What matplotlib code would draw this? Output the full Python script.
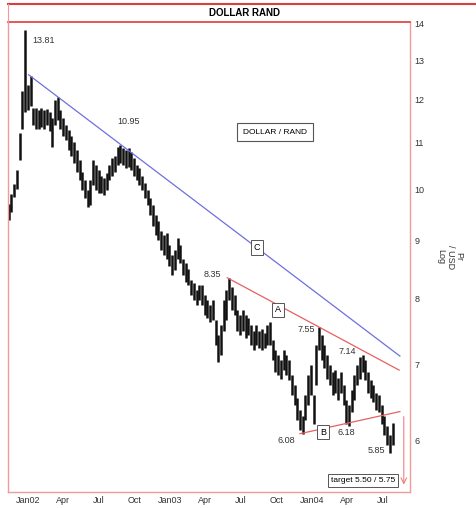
import numpy as np
import pandas as pd
import matplotlib
matplotlib.use('Agg')
import matplotlib.pyplot as plt
from matplotlib.ticker import FixedLocator, NullLocator, FixedFormatter

plt.rcParams['font.family'] = ['Liberation Sans', 'DejaVu Sans']

# weekly high / low of USD/ZAR, from mid Nov 2001
week_start = '2001-11-12'
highs = [9.70, 9.90, 10.10, 10.40, 11.20, 12.20, 13.81, 12.35, 12.60, 11.80,
         11.80, 11.75, 11.80, 11.75, 11.78, 11.70, 11.55, 12.00, 12.05, 11.75,
         11.55, 11.40, 11.28, 11.15, 11.00, 10.83, 10.60, 10.35, 10.18, 9.98,
         10.18, 10.60, 10.50, 10.39, 10.28, 10.22, 10.33, 10.50, 10.65, 10.70,
         10.90, 10.95, 10.87, 10.83, 10.87, 10.78, 10.65, 10.50, 10.43, 10.28,
         10.12, 9.98, 9.82, 9.68, 9.48, 9.38, 9.19, 9.10, 9.14, 8.92,
         8.74, 8.83, 9.05, 8.92, 8.68, 8.61, 8.50, 8.31, 8.26, 8.14,
         8.22, 8.22, 8.06, 7.98, 7.90, 7.98, 7.66, 7.43, 7.58, 7.98,
         8.14, 8.35, 8.19, 8.06, 7.82, 7.74, 7.82, 7.74, 7.69, 7.58,
         7.50, 7.58, 7.50, 7.53, 7.47, 7.58, 7.63, 7.35, 7.21, 7.13,
         7.06, 7.21, 7.13, 7.06, 6.85, 6.71, 6.54, 6.38, 6.30, 6.58,
         6.85, 6.99, 6.58, 7.28, 7.55, 7.43, 7.28, 7.13, 6.99, 6.89,
         6.92, 6.81, 6.89, 6.71, 6.51, 6.45, 6.64, 6.85, 6.99, 7.10,
         7.14, 7.06, 6.89, 6.78, 6.71, 6.61, 6.58, 6.45, 6.30, 6.18,
         6.06, 6.22]
lows = [9.40, 9.55, 9.85, 10.00, 10.60, 11.30, 11.70, 11.75, 11.85, 11.40,
        11.30, 11.30, 11.35, 11.30, 11.40, 11.25, 10.90, 11.40, 11.50, 11.30,
        11.15, 11.05, 10.83, 10.70, 10.55, 10.35, 10.18, 9.98, 9.82, 9.64,
        9.68, 10.08, 9.98, 9.93, 9.93, 9.88, 9.98, 10.18, 10.28, 10.35,
        10.50, 10.55, 10.50, 10.43, 10.47, 10.39, 10.28, 10.18, 10.08, 9.98,
        9.82, 9.68, 9.48, 9.28, 9.10, 9.01, 8.83, 8.74, 8.68, 8.56,
        8.40, 8.48, 8.68, 8.61, 8.40, 8.28, 8.22, 8.06, 7.98, 7.90,
        7.98, 7.90, 7.74, 7.69, 7.63, 7.66, 7.28, 7.03, 7.13, 7.50,
        7.66, 7.98, 7.82, 7.74, 7.50, 7.43, 7.50, 7.38, 7.43, 7.28,
        7.21, 7.28, 7.24, 7.21, 7.24, 7.28, 7.28, 7.06, 6.90, 6.85,
        6.80, 6.92, 6.85, 6.78, 6.58, 6.45, 6.25, 6.12, 6.08, 6.25,
        6.45, 6.58, 6.20, 6.71, 7.21, 7.06, 6.95, 6.80, 6.71, 6.58,
        6.61, 6.51, 6.61, 6.45, 6.20, 6.18, 6.35, 6.51, 6.71, 6.80,
        6.90, 6.78, 6.61, 6.54, 6.48, 6.38, 6.35, 6.20, 6.06, 5.94,
        5.85, 5.94]

# trend lines (date, level)
line_c_dates = ['2002-01-02', '2004-08-14']
line_c_vals = [12.62, 7.12]
line_a_dates = ['2003-05-28', '2004-08-12']
line_a_vals = [8.35, 6.92]
line_b_dates = ['2003-12-01', '2004-08-14']
line_b_vals = [6.08, 6.36]

# turning point labels
point_labels = ['13.81', '10.95', '8.35', '7.55', '7.14', '6.08', '6.18', '5.85']
point_dates = ['2002-01-11', '2002-09-15', '2003-04-19', '2003-12-17',
               '2004-03-31', '2003-10-26', '2004-03-28', '2004-06-14']
point_vals = [13.54, 11.47, 8.41, 7.52, 7.18, 6.00, 6.09, 5.88]

y_ticks = [6, 7, 8, 9, 10, 11, 12, 13, 14]
x_tick_dates = ['2002-01-01', '2002-04-01', '2002-07-01', '2002-10-01',
                '2003-01-01', '2003-04-01', '2003-07-01', '2003-10-01',
                '2004-01-01', '2004-04-01', '2004-07-01']
x_tick_labels = ['Jan02', 'Apr', 'Jul', 'Oct', 'Jan03', 'Apr', 'Jul', 'Oct',
                 'Jan04', 'Apr', 'Jul']

W, H = 477, 508
fig = plt.figure(figsize=(W / 100, H / 100), dpi=100)
ax = fig.add_axes([8 / W, 16 / H, 402 / W, 470 / H])

dates = pd.date_range(week_start, periods=len(highs), freq='7D')
ax.vlines(dates, lows, highs, color='#111111', lw=1.8)

ax.plot(pd.to_datetime(line_c_dates), line_c_vals, color='#6f6fe0', lw=0.9)
ax.plot(pd.to_datetime(line_a_dates), line_a_vals, color='#e86060', lw=0.9)
ax.plot(pd.to_datetime(line_b_dates), line_b_vals, color='#e86060', lw=0.9)

for txt, d, v in zip(point_labels, point_dates, point_vals):
    ha = 'left' if txt == '13.81' else 'center'
    ax.text(pd.Timestamp(d), v, txt, fontsize=6.5, ha=ha, va='center',
            color='#333333')

box = dict(boxstyle='square,pad=0.3', fc='white', ec='#555555', lw=0.7)
ax.text(pd.Timestamp('2003-10-06'), 7.82, 'A', fontsize=6.5, ha='center',
        va='center', bbox=box)
ax.text(pd.Timestamp('2004-01-29'), 6.10, 'B', fontsize=6.5, ha='center',
        va='center', bbox=box)
ax.text(pd.Timestamp('2003-08-13'), 8.88, 'C', fontsize=6.5, ha='center',
        va='center', bbox=box)
ax.text(pd.Timestamp('2003-09-28'), 11.23, 'DOLLAR / RAND', fontsize=6,
        ha='center', va='center',
        bbox=dict(boxstyle='square,pad=0.7', fc='white', ec='#555555', lw=0.8))
ax.text(pd.Timestamp('2004-05-12'), 5.53, 'target 5.50 / 5.75', fontsize=6,
        ha='center', va='center',
        bbox=dict(boxstyle='square,pad=0.35', fc='white', ec='#555555', lw=0.7))

# projected move down to target
ax.annotate('', xy=(pd.Timestamp('2004-08-24'), 5.45),
            xytext=(pd.Timestamp('2004-08-24'), 6.33),
            arrowprops=dict(arrowstyle='->', color='#f08080', lw=0.8))

ax.set_yscale('log')
ax.set_ylim(5.4, 14.05)
ax.set_xlim(pd.Timestamp('2001-11-10'), pd.Timestamp('2004-09-09'))
ax.yaxis.tick_right()
ax.yaxis.set_major_locator(FixedLocator(y_ticks))
ax.yaxis.set_major_formatter(FixedFormatter([str(t) for t in y_ticks]))
ax.yaxis.set_minor_locator(NullLocator())
ax.set_xticks(pd.to_datetime(x_tick_dates))
ax.set_xticklabels(x_tick_labels)
ax.tick_params(axis='both', length=0, labelsize=6.5, colors='#333333')
ax.tick_params(axis='y', pad=3)
ax.tick_params(axis='x', pad=3)

ax.spines['top'].set_color('#e03c3c')
ax.spines['top'].set_linewidth(1.2)
for side in ['left', 'right', 'bottom']:
    ax.spines[side].set_color('#f29a9a')
    ax.spines[side].set_linewidth(1.0)

ax.text(1.1, 0.5, 'Pr\n/ USD\nLog', transform=ax.transAxes, rotation=270,
        fontsize=6.5, ha='center', va='center', color='#333333',
        linespacing=1.0)

# title band
fig.lines.append(plt.Line2D([8 / W, 1], [1 - 4 / H, 1 - 4 / H],
                            transform=fig.transFigure, color='#e03c3c', lw=1.5))
fig.lines.append(plt.Line2D([8 / W, 8 / W], [1 - 4 / H, 1 - 22 / H],
                            transform=fig.transFigure, color='#f29a9a', lw=0.8))
fig.text(245 / W, 1 - 13 / H, 'DOLLAR RAND', fontsize=7, fontweight='bold',
         ha='center', va='center')

fig.savefig('out.png', dpi=100)
